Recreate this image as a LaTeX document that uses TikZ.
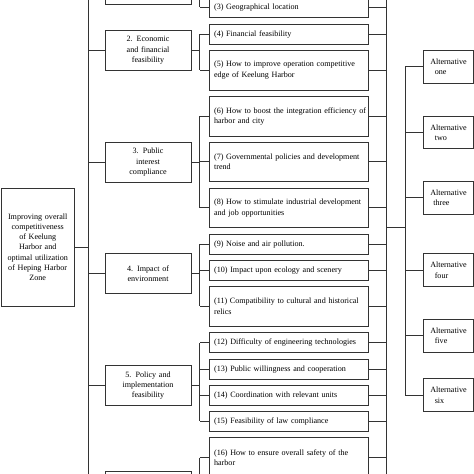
\documentclass[tikz,border=0pt]{standalone}
\usepackage{fontspec}
\setmainfont{Liberation Serif}
\begin{document}
\begin{tikzpicture}[x=1pt,y=-1pt,
  line width=0.9pt,
  txt/.style={font=\fontsize{8.1}{10.3}\selectfont, text=black},
  box/.style={draw=black!80, rectangle, anchor=north west, inner ysep=0pt, txt},
  subbox/.style={box, text width=150pt, inner xsep=4.65pt, align=left, minimum height=20pt},
  subboxtwo/.style={subbox, minimum height=39.5pt},
  critbox/.style={box, text width=80pt, inner xsep=3.1pt, align=center, minimum height=40pt},
  altbox/.style={box, text width=36.7pt, inner xsep=6.8pt, align=left, minimum height=32.7pt},
  rootbox/.style={box, text width=68pt, inner xsep=2.75pt, align=center, minimum height=118.5pt},
  link/.style={draw=black!80, line width=0.9pt}
]
\useasboundingbox (0,0) rectangle (474,474);
\fill[white] (0,0) rectangle (474,474);
\clip (0,0) rectangle (474,474);

% root
\node[rootbox] (root) at (0.5,187.5) {Improving overall\\competitiveness\\of Keelung\\Harbor and\\optimal utilization\\of Heping Harbor\\Zone};

% criteria
\node[critbox] (c1) at (104.5,-35.7) {};
\node[critbox] (c2) at (104.5,30) {2. Economic\\and financial\\feasibility};
\node[critbox] (c3) at (104.5,141.7) {3. Public\\interest\\compliance};
\node[critbox] (c4) at (104.5,253.3) {4. Impact of\\environment};
\node[critbox] (c5) at (104.5,365) {5. Policy and\\implementation\\feasibility};
\node[critbox] (c6) at (104.5,470.7) {};

% sub-criteria
\node[subbox]    (s3)  at (209,-3.3)  {(3) Geographical location};
\node[subbox]    (s4)  at (209,24)    {(4) Financial feasibility};
\node[subboxtwo] (s5)  at (209,50)    {\mbox{(5) How to improve operation competitive}\\edge of Keelung Harbor};
\node[subboxtwo] (s6)  at (209,96)    {\mbox{(6) How to boost the integration efficiency of}\\harbor and city};
\node[subboxtwo] (s7)  at (209,141.7) {\mbox{(7) Governmental policies and development}\\trend};
\node[subboxtwo] (s8)  at (209,187.7) {\mbox{(8) How to stimulate industrial development}\\and job opportunities};
\node[subbox]    (s9)  at (209,234)   {(9) Noise and air pollution.};
\node[subbox]    (s10) at (209,260)   {(10) Impact upon ecology and scenery};
\node[subboxtwo] (s11) at (209,286)   {\mbox{(11) Compatibility to cultural and historical}\\relics};
\node[subbox]    (s12) at (209,332.3) {\mbox{(12) Difficulty of engineering technologies}};
\node[subbox]    (s13) at (209,358.7) {(13) Public willingness and cooperation};
\node[subbox]    (s14) at (209,384.7) {(14) Coordination with relevant units};
\node[subbox]    (s15) at (209,411)   {(15) Feasibility of law compliance};
\node[subboxtwo] (s16) at (209,437.3) {\mbox{(16) How to ensure overall safety of the}\\harbor};

% alternatives
\node[altbox] (a1) at (423,50)    {Alternative\\\hspace*{4.5pt}one};
\node[altbox] (a2) at (423,115.7) {Alternative\\\hspace*{4.5pt}two};
\node[altbox] (a3) at (423,181)   {Alternative\\\hspace*{3pt}three};
\node[altbox] (a4) at (423,253.3) {Alternative\\\hspace*{4.5pt}four};
\node[altbox] (a5) at (423,319)   {Alternative\\\hspace*{4.5pt}five};
\node[altbox] (a6) at (423,378.3) {Alternative\\\hspace*{4.5pt}six};

% bus coordinates
\coordinate (tT) at (88.7,-40);
\coordinate (tB) at (88.7,514);
\coordinate (bL) at (199.8,0);
\coordinate (rT) at (386.7,-40);
\coordinate (rB) at (386.7,514);
\coordinate (rM) at (386.7,227.7);
\coordinate (aM) at (405,227.7);
\coordinate (aB) at (405,0);

% trunk
\draw[link] (tT) -- (tB);
\draw[link] (root.east) -- (root.east -| tT);
\foreach \c in {c1,c2,c3,c4,c5,c6}{
  \draw[link] (\c.west) -- (\c.west -| tT);
  \draw[link] (\c.east) -- (\c.east -| bL);
}

% left buses of each group
\draw[link] (c1.east -| bL) -- (s3.west -| bL);
\draw[link] (s4.west -| bL) -- (s5.west -| bL);
\draw[link] (s6.west -| bL) -- (s8.west -| bL);
\draw[link] (s9.west -| bL) -- (s11.west -| bL);
\draw[link] (s12.west -| bL) -- (s15.west -| bL);
\draw[link] (s16.west -| bL) -- (c6.east -| bL);
\foreach \s in {s3,s4,s5,s6,s7,s8,s9,s10,s11,s12,s13,s14,s15,s16}{
  \draw[link] (\s.west) -- (\s.west -| bL);
  \draw[link] (\s.east) -- (\s.east -| rT);
}

% right bus and alternatives
\draw[link] (rT) -- (rB);
\draw[link] (rM) -- (aM);
\draw[link] (a1.west -| aB) -- (a6.west -| aB);
\foreach \a in {a1,a2,a3,a4,a5,a6}{
  \draw[link] (\a.west) -- (\a.west -| aB);
}
\end{tikzpicture}
\end{document}
